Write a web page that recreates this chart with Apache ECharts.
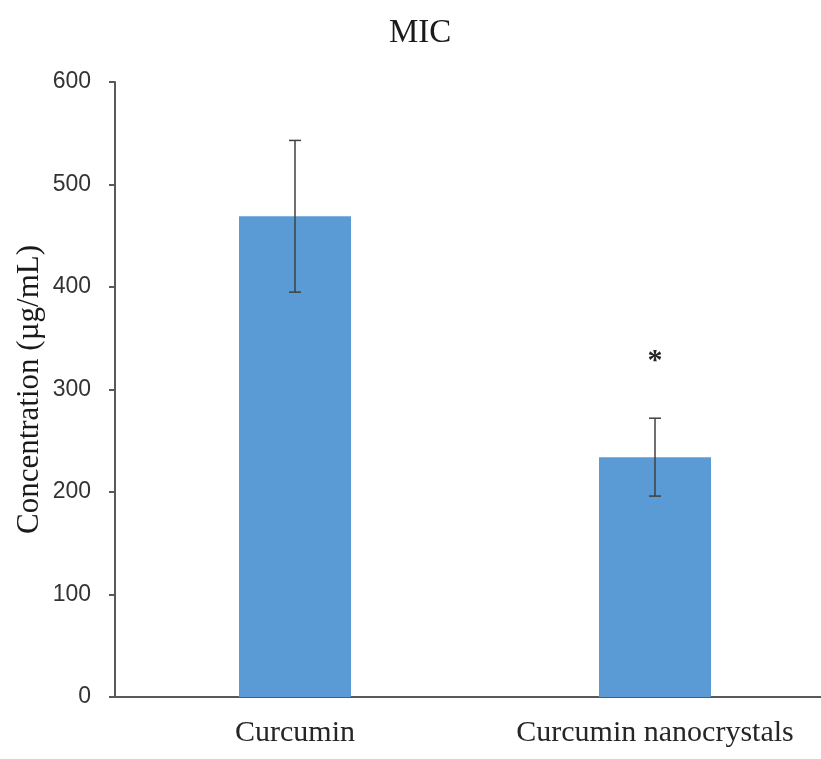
<!DOCTYPE html>
<html>
<head>
<meta charset="utf-8">
<script src="https://cdn.jsdelivr.net/npm/echarts@6/dist/echarts.min.js"></script>
<style>html,body{margin:0;padding:0;background:#fff;}#c{width:821px;height:759px;}</style>
</head>
<body>
<div id="c"></div>
<script>
var categories = ['Curcumin', 'Curcumin nanocrystals'];
var means = [469, 234];
var errors = [74, 38];
var significance = ['', '*'];
var yTicks = [0, 100, 200, 300, 400, 500, 600];

var chart = echarts.init(document.getElementById('c'));
var errData = categories.map(function (c, i) { return [i, means[i] - errors[i], means[i] + errors[i], significance[i]]; });

chart.setOption({
  animation: false,
  backgroundColor: '#ffffff',
  title: {
    text: 'MIC',
    left: 384, top: 12,
    textStyle: { fontFamily: 'Liberation Serif', fontSize: 33, fontWeight: 'normal', color: '#1a1a1a' }
  },
  grid: { left: 115, top: 82, width: 720, bottom: 62, outerBoundsMode: 'none', containLabel: false },
  xAxis: {
    type: 'category',
    data: categories,
    axisLine: { lineStyle: { color: '#595959', width: 2 } },
    axisTick: { show: false },
    axisLabel: { interval: 0, hideOverlap: false, fontFamily: 'Liberation Serif', fontSize: 30, color: '#262626', margin: 21 }
  },
  yAxis: {
    type: 'value',
    min: yTicks[0], max: yTicks[yTicks.length - 1], interval: yTicks[1] - yTicks[0],
    name: 'Concentration (µg/mL)',
    nameLocation: 'middle',
    nameGap: 70,
    nameMoveOverlap: false,
    nameRotate: 90,
    nameTextStyle: { fontFamily: 'Liberation Serif', fontSize: 31, color: '#1a1a1a' },
    axisLine: { show: true, lineStyle: { color: '#595959', width: 2 } },
    axisTick: { show: true, length: 6, lineStyle: { color: '#595959', width: 2 } },
    splitLine: { show: false },
    axisLabel: { fontFamily: 'Liberation Sans', fontSize: 23, color: '#333333', margin: 24 }
  },
  series: [
    {
      type: 'bar',
      data: means,
      barWidth: 112,
      itemStyle: { color: '#5B9BD5' }
    },
    {
      type: 'custom',
      data: errData,
      z: 10,
      renderItem: function (params, api) {
        var x = api.value(0);
        var lo = api.coord([x, api.value(1)]);
        var hi = api.coord([x, api.value(2)]);
        var hw = 6;
        var st = { stroke: '#404040', lineWidth: 1.5 };
        var children = [
          { type: 'line', shape: { x1: hi[0], y1: hi[1], x2: lo[0], y2: lo[1] }, style: st },
          { type: 'line', shape: { x1: hi[0] - hw, y1: hi[1], x2: hi[0] + hw, y2: hi[1] }, style: st },
          { type: 'line', shape: { x1: lo[0] - hw, y1: lo[1], x2: lo[0] + hw, y2: lo[1] }, style: st }
        ];
        var sig = significance[params.dataIndex];
        if (sig) {
          children.push({
            type: 'text',
            style: {
              text: sig, x: hi[0], y: hi[1] - 57,
              align: 'center', verticalAlign: 'middle',
              font: 'bold 30px "Liberation Serif"', fill: '#262626'
            }
          });
        }
        return { type: 'group', children: children };
      }
    }
  ]
});
</script>
</body>
</html>
